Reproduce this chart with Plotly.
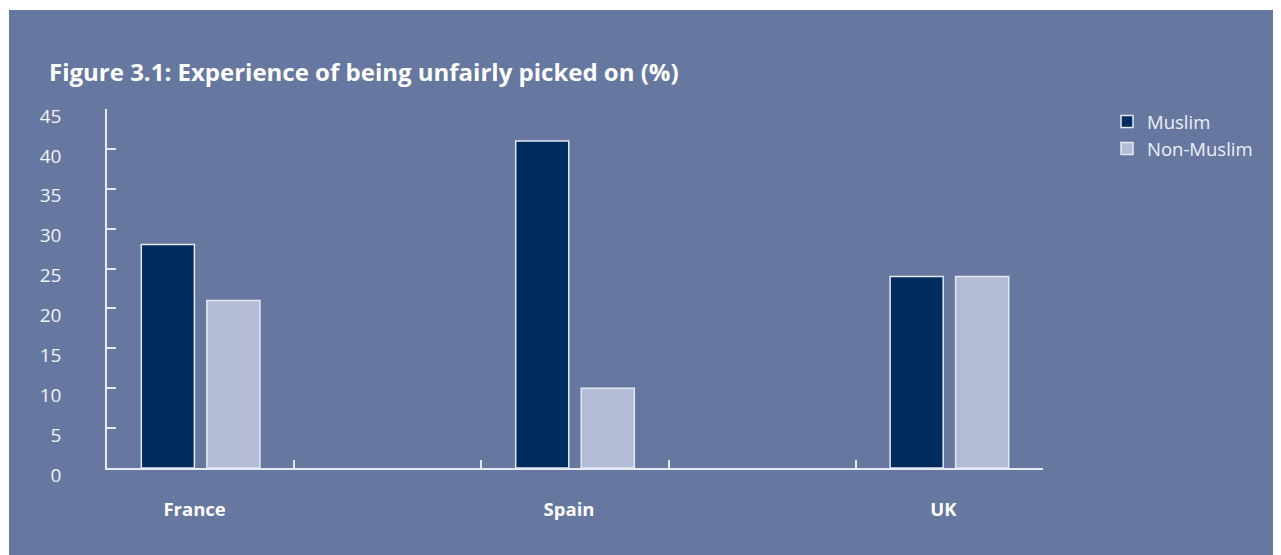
"""Figure 3.1: experience of being unfairly picked on, grouped bars."""

import plotly.graph_objects as go

# Data
COUNTRIES = ["France", "Spain", "UK"]
MUSLIM = [28, 41, 24]
NON_MUSLIM = [21, 10, 24]
# spacer slots between the countries keep the wide empty gaps of the original
AXIS_SLOTS = ["France", " ", "Spain", "  ", "UK"]
Y_TICKS = list(range(0, 50, 5))

BG = "#6677a0"
DARK = "#002c5f"
LIGHT = "#b4bbd6"
EDGE = "#e6e9f1"
FONT = "Open Sans"

fig = go.Figure()
fig.add_trace(go.Bar(
    x=COUNTRIES, y=MUSLIM, name="Muslim",
    marker={"color": DARK, "line": {"color": EDGE, "width": 1.5}},
))
fig.add_trace(go.Bar(
    x=COUNTRIES, y=NON_MUSLIM, name="Non-Muslim",
    marker={"color": LIGHT, "line": {"color": EDGE, "width": 1.5}},
))

# the page body adds an 8px margin, so the figure is 8px smaller than the window
W, H = 1273, 547
L, R, T, B = 99, 238, 101, 87
pw, ph = W - L - R, H - T - B

fig.update_layout(
    width=W, height=H,
    margin={"l": L, "r": R, "t": T, "b": B, "pad": 0},
    paper_bgcolor="white",
    plot_bgcolor="rgba(0,0,0,0)",
    barmode="group",
    bargap=0.30,
    bargroupgap=0.19,
    font={"family": FONT, "color": "white", "size": 18},
    title={
        "text": "<b>Figure 3.1: Experience of being unfairly picked on (%)</b>",
        "font": {"family": FONT, "size": 24, "color": "white"},
        "xref": "container", "yref": "container",
        "x": 41 / W, "xanchor": "left",
        "y": 1 - 65 / H, "yanchor": "middle",
    },
    legend={
        "x": (1099 - L) / pw, "xanchor": "left",
        "y": 1 + 6 / ph, "yanchor": "top",
        "bgcolor": "rgba(0,0,0,0)",
        "font": {"family": FONT, "size": 18.5, "color": "#eef0f6"},
        "traceorder": "normal",
    },
    shapes=[{
        # the blue panel, leaving a thin white strip on the top and left
        "type": "rect", "xref": "paper", "yref": "paper", "layer": "below",
        "x0": (1 - L) / pw, "x1": (W + 10 - L) / pw,
        "y0": -(B + 10) / ph, "y1": (H - 2 - B) / ph,
        "fillcolor": BG, "line": {"width": 0},
    }],
    showlegend=True,
)

fig.update_xaxes(
    type="category",
    categoryorder="array", categoryarray=AXIS_SLOTS,
    range=[-0.5, len(AXIS_SLOTS) - 0.5],
    showline=True, linecolor=EDGE, linewidth=1.5,
    showgrid=False, zeroline=False,
    ticks="inside", tickson="boundaries", ticklen=8, tickwidth=1.5, tickcolor=EDGE,
    tickfont={"family": FONT, "size": 18.5, "color": "white", "weight": "bold"},
    ticklabelstandoff=24, ticklabelshift=-6,
    fixedrange=True,
)
fig.update_yaxes(
    range=[0, 45], tickvals=Y_TICKS,
    showline=True, linecolor=EDGE, linewidth=1.5,
    showgrid=False, zeroline=False,
    ticks="inside", ticklen=9, tickwidth=1.5, tickcolor=EDGE,
    tickfont={"family": FONT, "size": 19, "color": "#f2f4f8"},
    ticklabelstandoff=40, ticklabelshift=7,
    fixedrange=True,
)

fig.write_html("out.html", config={"displayModeBar": False})
